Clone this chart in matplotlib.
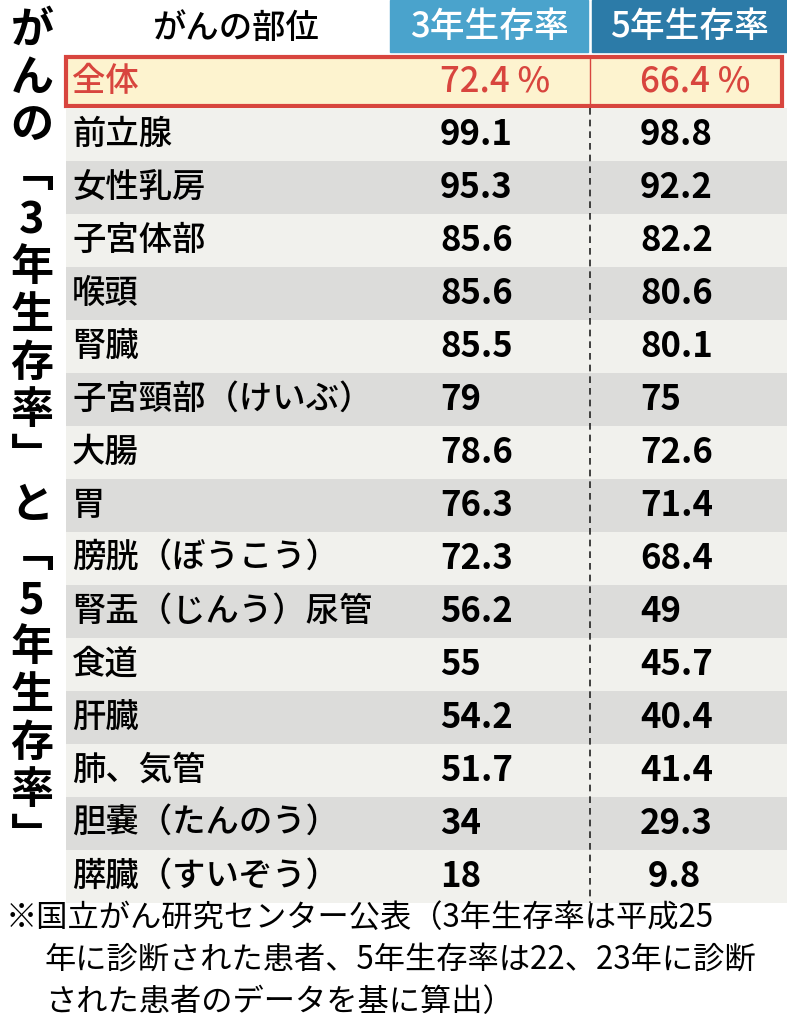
import matplotlib

matplotlib.use("Agg")
import matplotlib.pyplot as plt
from matplotlib.patches import Rectangle

plt.rcParams["font.family"] = ["Noto Sans CJK JP", "DejaVu Sans"]

title = "がんの﹁3年生存率﹂と﹁5年生存率﹂"
col_header = "がんの部位"
headers = ["3年生存率", "5年生存率"]
sites = ["全体", "前立腺", "女性乳房", "子宮体部", "喉頭", "腎臓", "子宮頸部（けいぶ）", "大腸", "胃",
         "膀胱（ぼうこう）", "腎盂（じんう）尿管", "食道", "肝臓", "肺、気管", "胆嚢（たんのう）", "膵臓（すいぞう）"]
rate3 = ["72.4", "99.1", "95.3", "85.6", "85.6", "85.5", "79", "78.6", "76.3", "72.3", "56.2", "55", "54.2", "51.7", "34", "18"]
rate5 = ["66.4", "98.8", "92.2", "82.2", "80.6", "80.1", "75", "72.6", "71.4", "68.4", "49", "45.7", "40.4", "41.4", "29.3", " 9.8"]
note = ["※国立がん研究センター公表（3年生存率は平成25",
        "年に診断された患者、5年生存率は22、23年に診断",
        "された患者のデータを基に算出）"]

W, H = 787, 1024
fig = plt.figure(figsize=(W / 100, H / 100), dpi=100)
ax = fig.add_axes([0, 0, 1, 1])
ax.set_xlim(0, W)
ax.set_ylim(H, 0)
ax.axis("off")

# vertical title
for i, ch in enumerate(title):
    ax.text(32, 30 + i * 47.5, ch, fontsize=31, fontweight="bold", ha="center", va="center")

# header
ax.text(235, 28, col_header, fontsize=24, fontweight="medium", ha="center", va="center")
ax.add_patch(Rectangle((390, 0), 198, 52, color="#4aa3cc"))
ax.add_patch(Rectangle((592, 0), 195, 52, color="#2c7ba8"))
ax.text(489, 27, headers[0], fontsize=25, fontweight="medium", color="white", ha="center", va="center")
ax.text(689, 27, headers[1], fontsize=25, fontweight="medium", color="white", ha="center", va="center")

row_h = 53
top = 55
for i, (s, a, b) in enumerate(zip(sites, rate3, rate5)):
    y0 = top + i * row_h
    yc = y0 + row_h / 2
    if i == 0:
        ax.add_patch(Rectangle((66, y0 + 2), 716, row_h - 4, facecolor="#fdf3cf",
                               edgecolor="#d8453e", linewidth=3))
        ax.plot([590, 590], [y0 + 4, y0 + row_h - 4], color="#d8453e", lw=1)
        col = "#d8453e"
        ax.text(72, yc, s, fontsize=24, fontweight="medium", color=col, ha="left", va="center")
        ax.text(440, yc, a + " %", fontsize=25, fontweight="medium", color=col, ha="left", va="center")
        ax.text(640, yc, b + " %", fontsize=25, fontweight="medium", color=col, ha="left", va="center")
        continue
    face = "#dcdcda" if i % 2 == 0 else "#f1f1ed"
    ax.add_patch(Rectangle((66, y0), 721, row_h, color=face, lw=0))
    ax.text(72, yc, s, fontsize=24, fontweight="medium", ha="left", va="center")
    ax.text(440, yc, a, fontsize=25, fontweight="bold", ha="left", va="center")
    ax.text(640, yc, b, fontsize=25, fontweight="bold", ha="left", va="center")

ax.plot([590, 590], [top + row_h, top + len(sites) * row_h], color="#222222", lw=1.2, ls=(0, (4, 3)))

# footnote
ax.text(6, 918, note[0], fontsize=22.5, ha="left", va="center")
ax.text(45, 960, note[1], fontsize=22.5, ha="left", va="center")
ax.text(45, 1002, note[2], fontsize=22.5, ha="left", va="center")

fig.savefig("out.png", dpi=100)
